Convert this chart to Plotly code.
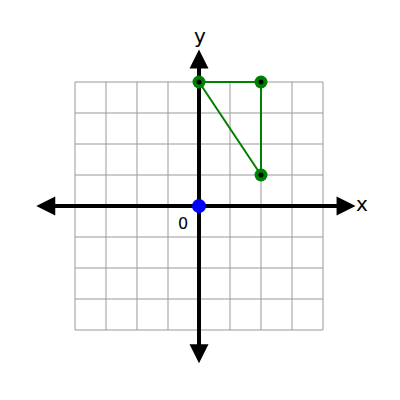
import plotly.graph_objects as go

# grid extent (units)
grid_min, grid_max = -4, 4
grid_ticks = list(range(grid_min, grid_max + 1))

# triangle vertices
tri_x = [0, 2, 2]
tri_y = [4, 4, 1]

# origin point
origin_x = [0]
origin_y = [0]

# axis arrow tips
x_tips = [-5.25, 5.05]
y_tips = [5.05, -5.07]

fig = go.Figure()

# grid lines
for t in grid_ticks:
    fig.add_shape(type="line", x0=t, x1=t, y0=grid_min, y1=grid_max,
                  line=dict(color="#999999", width=1), layer="below")
    fig.add_shape(type="line", x0=grid_min, x1=grid_max, y0=t, y1=t,
                  line=dict(color="#999999", width=1), layer="below")

# axis lines (arrowheads added as annotations below)
fig.add_trace(go.Scatter(x=[x_tips[0] + 0.3, x_tips[1] - 0.3], y=[0, 0], mode="lines",
                         line=dict(color="black", width=4), hoverinfo="skip"))
fig.add_trace(go.Scatter(x=[0, 0], y=[y_tips[1] + 0.3, y_tips[0] - 0.3], mode="lines",
                         line=dict(color="black", width=4), hoverinfo="skip"))
for tx in x_tips:
    back = tx - 0.6 if tx > 0 else tx + 0.6
    fig.add_annotation(x=tx, y=0, ax=back, ay=0, xref="x", yref="y", axref="x", ayref="y",
                       text="", showarrow=True, arrowhead=2, arrowsize=0.95,
                       arrowwidth=4, arrowcolor="black")
for ty in y_tips:
    back = ty - 0.6 if ty > 0 else ty + 0.6
    fig.add_annotation(x=0, y=ty, ax=0, ay=back, xref="x", yref="y", axref="x", ayref="y",
                       text="", showarrow=True, arrowhead=2, arrowsize=0.95,
                       arrowwidth=4, arrowcolor="black")

# triangle
fig.add_trace(go.Scatter(
    x=tri_x + tri_x[:1], y=tri_y + tri_y[:1], mode="lines",
    line=dict(color="green", width=2), hoverinfo="skip"))
fig.add_trace(go.Scatter(
    x=tri_x, y=tri_y, mode="markers",
    marker=dict(color="green", size=13, line=dict(width=0))))
fig.add_trace(go.Scatter(
    x=tri_x, y=tri_y, mode="markers",
    marker=dict(color="black", size=5, line=dict(width=0))))

# origin
fig.add_trace(go.Scatter(
    x=origin_x, y=origin_y, mode="markers",
    marker=dict(color="blue", size=14, line=dict(width=0))))

# labels
fig.add_annotation(x=5.25, y=0.08, text="x", showarrow=False,
                   font=dict(family="DejaVu Sans", size=20, color="black"))
fig.add_annotation(x=0.02, y=5.5, text="y", showarrow=False,
                   font=dict(family="DejaVu Sans", size=20, color="black"))
fig.add_annotation(x=-0.52, y=-0.55, text="0", showarrow=False,
                   font=dict(family="DejaVu Sans", size=16, color="black"))

# page body has an 8px offset, so place origin at (191, 198) inside the figure
px = 31.0
fig.update_layout(
    width=400, height=400,
    margin=dict(l=0, r=0, t=0, b=0),
    plot_bgcolor="white", paper_bgcolor="white",
    showlegend=False,
    xaxis=dict(range=[-191 / px, 209 / px], visible=False, fixedrange=True),
    yaxis=dict(range=[-202 / px, 198 / px], visible=False, fixedrange=True),
)

fig.write_html("out.html")
